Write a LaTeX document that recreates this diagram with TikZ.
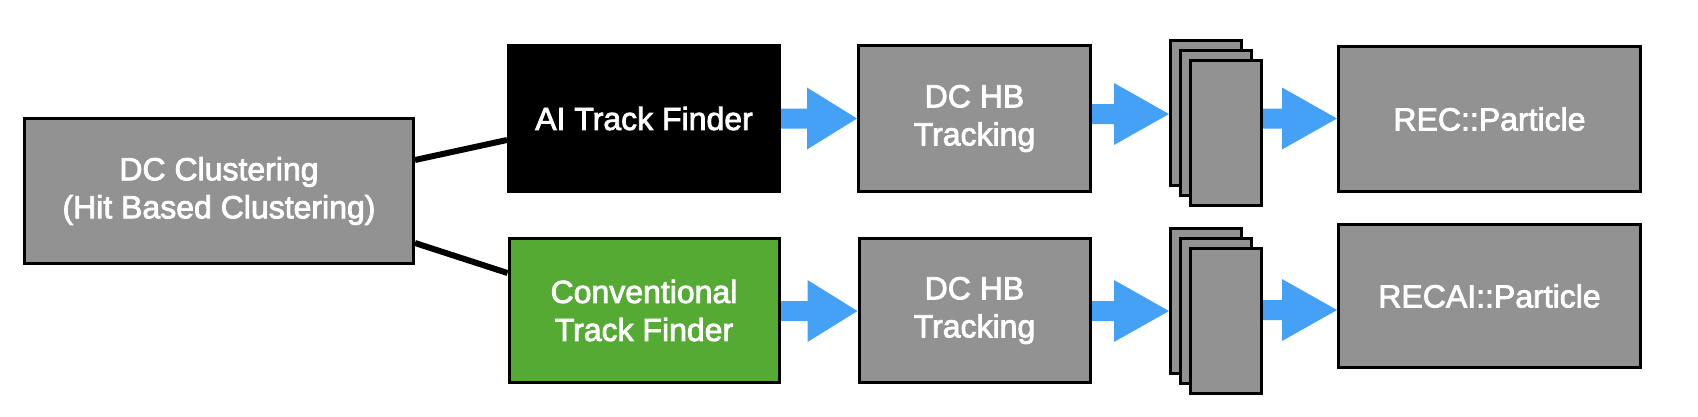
\documentclass[tikz,border=0pt]{standalone}
\usepackage{fontspec}
\setmainfont{Liberation Sans}
\newfontfamily\medfont{Liberation Sans}[FakeBold=2.5]
\usetikzlibrary{calc,backgrounds}
\definecolor{boxgray}{RGB}{146,146,146}
\definecolor{boxgreen}{RGB}{84,170,51}
\definecolor{arrowblue}{RGB}{69,161,246}
\tikzset{
  box/.style={draw=black, line width=3pt, fill=boxgray, text=white, align=center,
    inner sep=0pt, font=\medfont\fontsize{32}{38}\selectfont},
  card/.style={draw=black, line width=3pt, fill=boxgray, inner sep=0pt,
    minimum width=71pt, minimum height=145pt},
  link/.style={draw=black, line width=6pt}
}
% block arrow: source, target, y (picture units, downwards), head length
\newcommand\blockarrow[4]{%
  \fill[arrowblue] let \p1=(#1.east |- 0,#3), \p2=(#2.west |- 0,#3) in
    (\x1,\y1+10pt) -- (\x2-#4,\y1+10pt) -- (\x2-#4,\y1+31pt) -- (\x2,\y1)
    -- (\x2-#4,\y1-31pt) -- (\x2-#4,\y1-10pt) -- (\x1,\y1-10pt) -- cycle;}
\begin{document}
\begin{tikzpicture}[x=1pt,y=-1pt]
\useasboundingbox (0,0) rectangle (1698,416);
% main boxes
\node[box, minimum width=389pt, minimum height=145pt] (dc) at (219,191)
  {DC Clustering\\(Hit Based Clustering)};
\node[box, fill=black, minimum width=271pt, minimum height=146pt] (ai) at (644,118.5)
  {AI Track Finder};
\node[box, fill=boxgreen, minimum width=270pt, minimum height=144pt] (conv) at (644,310.5)
  {Conventional\\Track Finder};
\node[box, minimum width=232pt, minimum height=146pt] (hbA) at (974.5,118.5)
  {DC HB\\Tracking};
\node[box, minimum width=231pt, minimum height=144pt] (hbB) at (974.5,310.5)
  {DC HB\\Tracking};
% stacks
\node[card] (sAback) at (1206,113) {};
\node[card] (sAmid) at (1216,123) {};
\node[card] (sAfront) at (1226,133) {};
\node[card] (sBback) at (1206,300.5) {};
\node[card] (sBmid) at (1216,310.5) {};
\node[card] (sBfront) at (1226,320.5) {};
% outputs
\node[box, minimum width=302pt, minimum height=145pt] (rec) at (1489.5,119)
  {REC::Particle};
\node[box, minimum width=302pt, minimum height=143pt] (recai) at (1489.5,296)
  {RECAI::Particle};
\begin{pgfonlayer}{background}
  \draw[link] ([yshift=31pt]dc.east) -- ([yshift=-21.5pt]ai.west);
  \draw[link] ([yshift=-52pt]dc.east) -- ([yshift=37.5pt]conv.west);
  \blockarrow{ai}{hbA}{118.5}{50pt}
  \blockarrow{hbA}{sAback}{114}{55pt}
  \blockarrow{sAfront}{rec}{118.5}{55pt}
  \blockarrow{conv}{hbB}{311}{50pt}
  \blockarrow{hbB}{sBback}{311}{55pt}
  \blockarrow{sBfront}{recai}{310}{55pt}
\end{pgfonlayer}
\end{tikzpicture}
\end{document}
